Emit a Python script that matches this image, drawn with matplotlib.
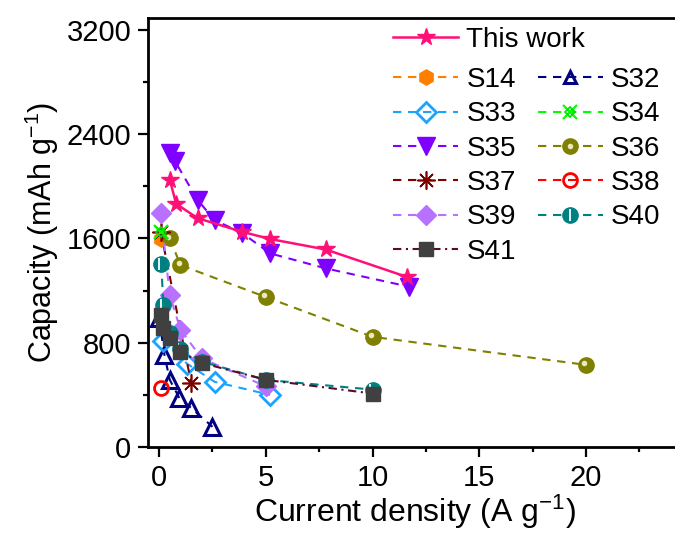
import matplotlib
matplotlib.use("Agg")
import matplotlib.pyplot as plt
from matplotlib.lines import Line2D
from matplotlib.legend_handler import HandlerTuple
from matplotlib.transforms import offset_copy
from matplotlib.ticker import MultipleLocator

plt.rcParams['font.family'] = ['Liberation Sans', 'DejaVu Sans']
plt.rcParams['mathtext.default'] = 'regular'

# ---- data ----
this_x = [0.5, 0.8, 1.8, 3.9, 5.2, 7.8, 11.6]
this_y = [2050, 1865, 1755, 1650, 1595, 1515, 1305]

s14_x = [0.08]
s14_y = [1595]

s32_x = [0.0, 0.25, 0.5, 0.95, 1.5, 2.5]
s32_y = [990, 705, 515, 375, 300, 155]

s33_x = [0.2, 1.3, 2.6, 5.2]
s33_y = [810, 640, 500, 400]

s34_x = [0.08]
s34_y = [1650]

s35_x = [0.5, 0.75, 1.8, 2.6, 3.9, 5.2, 7.8, 11.7]
s35_y = [2255, 2190, 1895, 1740, 1640, 1485, 1370, 1230]

s36_x = [0.5, 1.0, 5.0, 10.0, 20.0]
s36_y = [1600, 1395, 1150, 845, 630]

s37_x = [0.08, 1.5]
s37_y = [1650, 493]

s38_x = [0.08]
s38_y = [450]

s39_x = [0.08, 0.5, 1.0, 2.0, 5.0]
s39_y = [1795, 1165, 900, 680, 465]

s40_x = [0.1, 0.2, 0.5, 1.0, 2.0, 5.0, 10.0]
s40_y = [1405, 1090, 875, 755, 655, 515, 440]

s41_x = [0.1, 0.2, 0.5, 1.0, 2.0, 5.0, 10.0]
s41_y = [1010, 910, 835, 730, 645, 515, 410]

x_ticks = [0, 5, 10, 15, 20]
y_ticks = [0, 800, 1600, 2400, 3200]

# ---- figure ----
W, H = 675, 537
fig = plt.figure(figsize=(W / 100, H / 100), dpi=100)
ax = fig.add_axes([148 / W, 1 - 447 / H, (682 - 148) / W, (447 - 18) / H])

dash = (4, 3.2)
lw = 1.5
S = {}

S['S14'] = ax.plot(s14_x, s14_y, color='#FF8000', ls='--', dashes=dash, lw=lw,
                   marker='h', ms=11, mfc='#FF8000', mec='#FF8000', zorder=3)[0]
S['S32'] = ax.plot(s32_x, s32_y, color='#000080', ls='--', dashes=dash, lw=lw,
                   marker='^', ms=11, mfc='none', mec='#000080', mew=2.2, zorder=3)[0]
S['S33'] = ax.plot(s33_x, s33_y, color='#1AA3FF', ls='--', dashes=dash, lw=lw,
                   marker='D', ms=10, mfc='none', mec='#1AA3FF', mew=2, zorder=3)[0]
s34a = ax.plot(s34_x, s34_y, color='#00FF00', ls='--', dashes=dash, lw=lw,
               marker='x', ms=10, mec='#00FF00', mew=1.6, zorder=4)[0]
s34b = ax.plot(s34_x, s34_y, ls='none', marker='D', ms=5.5, mfc='none',
               mec='#00DD00', mew=1.2, zorder=4)[0]
S['S35'] = ax.plot(s35_x, s35_y, color='#8000FF', ls='--', dashes=dash, lw=lw,
                   marker='v', ms=13.5, mfc='#8000FF', mec='#8000FF', zorder=3)[0]
s36a = ax.plot(s36_x, s36_y, color='#808000', ls='--', dashes=dash, lw=lw,
               marker='o', ms=11, mfc='#808000', mec='#808000', zorder=3)[0]
hl = offset_copy(ax.transData, fig=fig, x=-1.2, y=1.2, units='points')
s36b = ax.plot(s36_x, s36_y, ls='none', marker='o', ms=4, mfc='#E8E8C8', mec='none',
               transform=hl, zorder=3)[0]
s36b_leg = Line2D([], [], ls='none', marker='o', ms=4, mfc='#E8E8C8', mec='none')
S['S37'] = ax.plot(s37_x, s37_y, color='#800000', ls='--', dashes=dash, lw=lw,
                   marker=(8, 2, 0), ms=13, mec='#800000', mew=1.2, zorder=3)[0]
S['S38'] = ax.plot(s38_x, s38_y, color='#FF0000', ls='--', dashes=dash, lw=lw,
                   marker='o', ms=10, mfc='none', mec='#FF0000', mew=2, zorder=3)[0]
S['S39'] = ax.plot(s39_x, s39_y, color='#B870FF', ls='--', dashes=dash, lw=lw,
                   marker='D', ms=10, mfc='#B870FF', mec='#B870FF', zorder=3)[0]
s40a = ax.plot(s40_x, s40_y, color='#008080', ls='--', dashes=dash, lw=lw,
               marker='o', ms=11, mfc='#008080', mec='#008080', zorder=3)[0]
wl = offset_copy(ax.transData, fig=fig, x=-1.5, y=0, units='points')
s40b = ax.plot(s40_x, s40_y, ls='none', marker='|', ms=8, mec='white', mew=1.3,
               transform=wl, zorder=3)[0]
s40b_leg = Line2D([], [], ls='none', marker='|', ms=8, mec='white', mew=1.3)
S['S41'] = ax.plot(s41_x, s41_y, color='#5A0A2E', ls='-.', dashes=(4, 2.2, 1, 2.2), lw=lw,
                   marker='s', ms=10, mfc='#404040', mec='#404040', zorder=3)[0]
S['This'] = ax.plot(this_x, this_y, color='#FF1077', ls='-', lw=1.8,
                    marker='*', ms=13, mfc='#FF1077', mec='#FF1077', zorder=5)[0]

ax.set_xlim(-0.52, 24.5)
ax.set_ylim(0, 3290)
ax.set_xticks(x_ticks)
ax.set_yticks(y_ticks)
ax.xaxis.set_minor_locator(MultipleLocator(2.5))
ax.yaxis.set_minor_locator(MultipleLocator(400))
ax.tick_params(which='major', direction='out', length=7, width=1.6, labelsize=21, pad=5)
ax.tick_params(which='minor', direction='out', length=3.5, width=1.6)
for sp in ['left', 'bottom', 'top']:
    ax.spines[sp].set_linewidth(2)
ax.spines['right'].set_visible(False)

ax.set_xlabel('Current density (A g$^{-1}$)', fontsize=23, labelpad=1)
ax.set_ylabel('Capacity (mAh g$^{-1}$)', fontsize=22, labelpad=4)

fs = 20
leg1 = ax.legend([S['This']], ['This work'], loc='upper left',
                 bbox_to_anchor=(393 / W, 1 - 27 / H), bbox_transform=fig.transFigure,
                 frameon=False, fontsize=fs, handlelength=2.34, handletextpad=0.3,
                 borderpad=0, borderaxespad=0)
ax.add_artist(leg1)

handles = [S['S14'], S['S33'], S['S35'], S['S37'], S['S39'], S['S41'],
           Line2D([], [], color='#000080', ls='--', dashes=dash, lw=lw, marker='^', ms=9,
                  mfc='none', mec='#000080', mew=2.2),
           (s34a, s34b), (s36a, s36b_leg), S['S38'], (s40a, s40b_leg)]
labels = ['S14', 'S33', 'S35', 'S37', 'S39', 'S41',
          'S32', 'S34', 'S36', 'S38', 'S40']
leg2 = ax.legend(handles, labels, loc='upper left', ncol=2,
                 bbox_to_anchor=(393 / W, 1 - 67 / H), bbox_transform=fig.transFigure,
                 frameon=False, fontsize=fs, handlelength=2.34, handletextpad=0.3,
                 labelspacing=0.3, columnspacing=0.78, borderpad=0, borderaxespad=0,
                 handler_map={tuple: HandlerTuple(ndivide=1)})

fig.savefig('out.png', dpi=100)
